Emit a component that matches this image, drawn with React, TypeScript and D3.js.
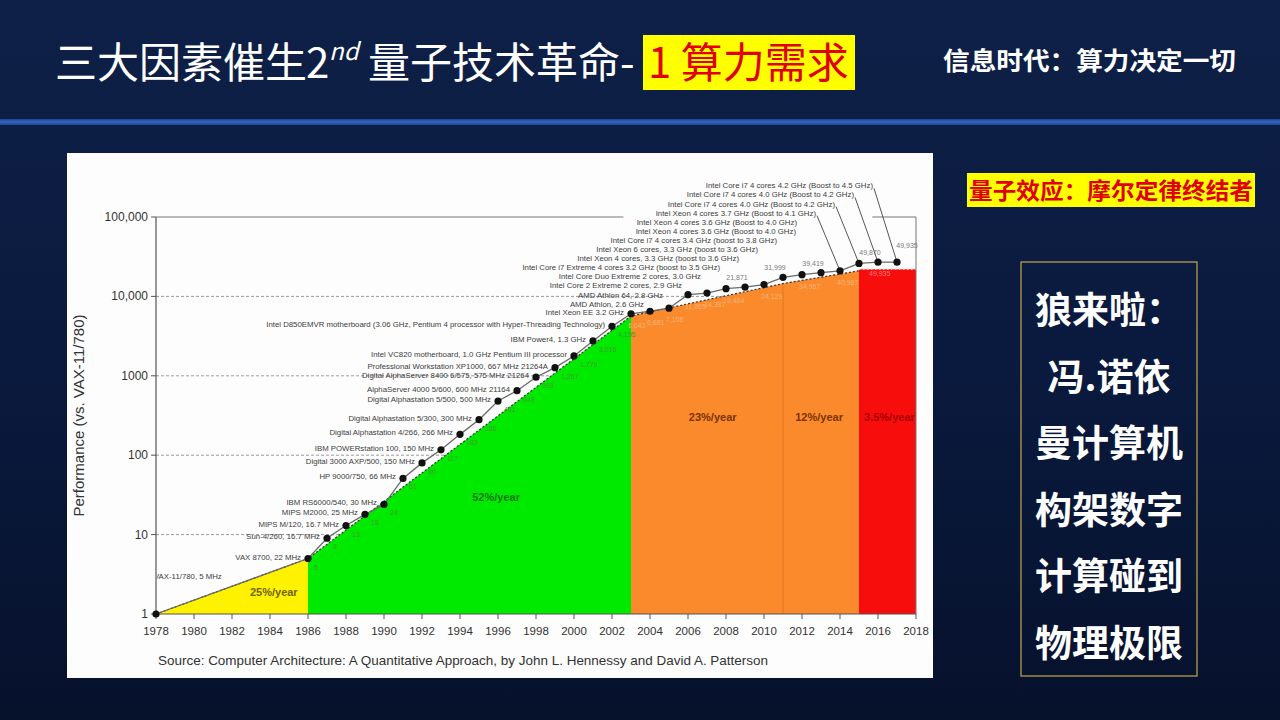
import React from 'react';
import * as d3 from 'd3';

// ---------- data ----------
const years = [1978, 1986, 1987, 1988, 1989, 1990, 1991, 1992, 1993, 1994, 1995, 1996, 1997, 1998, 1999, 2000, 2001, 2002, 2003, 2004, 2005, 2006, 2007, 2008, 2009, 2010, 2011, 2012, 2013, 2014, 2015, 2016, 2017];
const perf = [1, 5, 9, 13, 18, 24, 51, 80, 117, 183, 280, 481, 649, 960, 1267, 1779, 2750, 4195, 6043, 6500, 7100, 10500, 11000, 12500, 13100, 14100, 17400, 18800, 19900, 21000, 26000, 27000, 27000];
const machines = [
  'VAX-11/780, 5 MHz',
  'VAX 8700, 22 MHz',
  'Sun-4/260, 16.7 MHz',
  'MIPS M/120, 16.7 MHz',
  'MIPS M2000, 25 MHz',
  'IBM RS6000/540, 30 MHz',
  'HP 9000/750, 66 MHz',
  'Digital 3000 AXP/500, 150 MHz',
  'IBM POWERstation 100, 150 MHz',
  'Digital Alphastation 4/266, 266 MHz',
  'Digital Alphastation 5/300, 300 MHz',
  'Digital Alphastation 5/500, 500 MHz',
  'AlphaServer 4000 5/600, 600 MHz 21164',
  'Digital AlphaServer 8400 6/575, 575 MHz 21264',
  'Professional Workstation XP1000, 667 MHz 21264A',
  'Intel VC820 motherboard, 1.0 GHz Pentium III processor',
  'IBM Power4, 1.3 GHz',
  'Intel D850EMVR motherboard (3.06 GHz, Pentium 4 processor with Hyper-Threading Technology)',
  'Intel Xeon EE 3.2 GHz',
  'AMD Athlon, 2.6 GHz',
  'AMD Athlon 64, 2.8 GHz',
  'Intel Core 2 Extreme 2 cores, 2.9 GHz',
  'Intel Core Duo Extreme 2 cores, 3.0 GHz',
  'Intel Core i7 Extreme 4 cores 3.2 GHz (boost to 3.5 GHz)',
  'Intel Xeon 4 cores, 3.3 GHz (boost to 3.6 GHz)',
  'Intel Xeon 6 cores, 3.3 GHz (boost to 3.6 GHz)',
  'Intel Core i7 4 cores 3.4 GHz (boost to 3.8 GHz)',
  'Intel Xeon 4 cores 3.6 GHz (Boost to 4.0 GHz)',
  'Intel Xeon 4 cores 3.6 GHz (Boost to 4.0 GHz)',
  'Intel Xeon 4 cores 3.7 GHz (Boost to 4.1 GHz)',
  'Intel Core i7 4 cores 4.0 GHz (Boost to 4.2 GHz)',
  'Intel Core i7 4 cores 4.0 GHz (Boost to 4.2 GHz)',
  'Intel Core i7 4 cores 4.2 GHz (Boost to 4.5 GHz)',
];
const valueLabels = ['', '5', '9', '13', '18', '24', '51', '80', '117', '183', '280', '481', '649', '993', '1,267', '1,779', '3,016', '4,195', '6,043', '6,681', '7,108', '11,865', '14,387', '19,484', '21,871', '24,129', '31,999', '34,967', '39,419', '40,967', '49,935', '49,870', '49,935'];
// g = inside green, b = below line, a = above line, A = above-right, r = inside red
const valueSide = ['', 'g', 'g', 'g', 'g', 'g', 'g', 'g', 'g', 'g', 'g', 'g', 'g', 'g', 'g', 'g', 'g', 'g', 'b', 'b', 'b', 'b', 'b', 'b', 'a', 'b', 'a', 'b', 'a', 'b', 'r', 'a', 'A'];

const eraYellowYears = [1978, 1986];
const eraYellowTop = [1, 5];
const eraGreenYears = [1986, 2003];
const eraGreenTop = [5, 5660];
const eraOrangeYears = [2003, 2011, 2015];
const eraOrangeTop = [5660, 14500, 21000];
const eraRedYears = [2015, 2018];
const eraRedTop = [22000, 22000];

const rateLabels = ['25%/year', '52%/year', '23%/year', '12%/year', '3.5%/year'];
const rateYears = [1984.2, 1995.9, 2007.3, 2012.9, 2016.6];
const rateValues = [1.9, 30, 300, 300, 300];
const rateColors = ['#6e6400', '#0b7a0b', '#7a3300', '#7a3300', '#a80000'];

const yTicks = [1, 10, 100, 1000, 10000, 100000];
const yTickLabels = ['1', '10', '100', '1000', '10,000', '100,000'];
const xTicks = d3.range(1978, 2019, 2);

const boxLines = ['狼来啦：', '冯.诺依', '曼计算机', '构架数字', '计算碰到', '物理极限'];

const CJK = '"Noto Sans CJK SC", sans-serif';
const SANS = '"Liberation Sans", Arial, sans-serif';

export default function App() {
  const x = d3.scaleLinear().domain([1978, 2018]).range([156, 916]);
  const y = d3.scaleLog().domain([1, 100000]).range([614, 217]);

  const mkArea = (ys: number[], vs: number[]) =>
    d3.area<number>().x((_, i) => x(ys[i])).y0(y(1)).y1((_, i) => y(vs[i]))(vs) || '';
  const mkLine = (ys: number[], vs: number[]) =>
    d3.line<number>().x((_, i) => x(ys[i])).y((_, i) => y(vs[i]))(vs) || '';

  const topYears = [...eraYellowYears, ...eraGreenYears.slice(1), ...eraOrangeYears.slice(1)];
  const topVals = [...eraYellowTop, ...eraGreenTop.slice(1), ...eraOrangeTop.slice(1)];

  const dotLine = d3.line<number>().x((_, i) => x(years[i])).y((_, i) => y(perf[i]))(perf) || '';

  const idx2003 = years.indexOf(2003);
  const y2003 = y(perf[idx2003]);

  const labelPos = (i: number) => {
    const yr = years[i];
    const dx = x(yr);
    const dy = y(perf[i]);
    if (i === 0) return { lx: dx - 2, ly: y(3) + 3, anchor: 'start' };
    if (yr <= 2003) return { lx: dx - 7, ly: dy + 1, anchor: 'end' };
    const ly = y2003 - 9.1 * (yr - 2003) + 2;
    const lx = yr <= 2012 ? dx - 6 : dx - 24;
    return { lx, ly, anchor: 'end' };
  };

  const valuePos = (i: number) => {
    const dx = x(years[i]);
    const dy = y(perf[i]);
    const s = valueSide[i];
    if (s === 'g') return { vx: dx + 6, vy: dy + 11, anchor: 'start', fill: '#3f9f2c' };
    if (s === 'b') return { vx: dx - 3, vy: dy + 14, anchor: 'start', fill: '#f6b274' };
    if (s === 'r') return { vx: dx + 10, vy: dy + 13, anchor: 'start', fill: '#ff7d7d' };
    if (s === 'A') return { vx: dx + 10, vy: dy - 14, anchor: 'middle', fill: '#7a7a7a' };
    return { vx: dx - 8, vy: dy - 7, anchor: 'middle', fill: '#7a7a7a' };
  };

  return (
    <div style={{ position: 'fixed', left: 0, top: 0, width: 1280, height: 720 }}>
      <svg width={1280} height={720} style={{ display: 'block' }}>
        <defs>
          <linearGradient id="bg" x1="0" y1="0" x2="0" y2="1">
            <stop offset="0" stopColor="#0f2048" />
            <stop offset="0.5" stopColor="#0a1a3e" />
            <stop offset="1" stopColor="#06112c" />
          </linearGradient>
          <linearGradient id="bar" x1="0" y1="0" x2="0" y2="1">
            <stop offset="0" stopColor="#1d4590" />
            <stop offset="0.5" stopColor="#3566c0" />
            <stop offset="1" stopColor="#1d4590" />
          </linearGradient>
          <clipPath id="plotClip">
            <rect x={x(1978) + 1} y={150} width={x(2018) - x(1978) + 2} height={470} />
          </clipPath>
        </defs>
        <rect x={0} y={0} width={1280} height={720} fill="url(#bg)" />
        <rect x={0} y={119} width={1280} height={6} fill="url(#bar)" />

        {/* title */}
        <text x={55} y={78} fontFamily={CJK} fontSize={42} fill="#ffffff">三大因素催生</text>
        <text x={306} y={78} fontFamily={CJK} fontSize={42} fill="#ffffff">2</text>
        <text x={329} y={60} fontFamily={CJK} fontSize={24} fontStyle="italic" fill="#ffffff">nd</text>
        <text x={368} y={78} fontFamily={CJK} fontSize={42} fill="#ffffff">量子技术革命-</text>
        <rect x={643} y={35} width={212} height={55} fill="#ffff00" />
        <text x={648} y={78} fontFamily={CJK} fontSize={42} fill="#e00000">1 算力需求</text>
        <text x={943} y={70} fontFamily={CJK} fontSize={25} fontWeight="bold" fill="#ffffff" textLength={293} lengthAdjust="spacingAndGlyphs">信息时代：算力决定一切</text>

        {/* chart panel */}
        <rect x={67} y={153} width={866} height={525} fill="#fdfdfd" />

        {/* grid */}
        {yTicks.slice(1, -1).map((t) => (
          <line key={'g' + t} x1={x(1978)} x2={x(2018)} y1={y(t)} y2={y(t)} stroke="#9a9a9a" strokeWidth={1} strokeDasharray="3,2" />
        ))}

        {/* eras */}
        <path d={mkArea(eraYellowYears, eraYellowTop)} fill="#fff200" />
        <path d={mkArea(eraGreenYears, eraGreenTop)} fill="#00ea00" />
        <path d={mkArea(eraOrangeYears, eraOrangeTop)} fill="#fb8a2c" />
        <path d={mkArea(eraRedYears, eraRedTop)} fill="#f80d0d" />
        <path d={mkLine(topYears, topVals)} fill="none" stroke="#333" strokeWidth={1.2} strokeDasharray="2,2" />
        <path d={mkLine(eraRedYears, eraRedTop)} fill="none" stroke="#ffc0c0" strokeWidth={1.5} strokeDasharray="1.5,2.5" />
        <line x1={x(2011)} x2={x(2011)} y1={y(14500) + 2} y2={y(1)} stroke="#e07520" strokeWidth={1} />

        {/* rate labels */}
        <g clipPath="url(#plotClip)">
          {rateLabels.map((r, i) => (
            <text key={r} x={x(rateYears[i])} y={y(rateValues[i]) + 4} textAnchor="middle" fontFamily={SANS} fontSize={11} fontWeight="bold" fill={rateColors[i]}>{r}</text>
          ))}
        </g>

        {/* frame / axes */}
        <line x1={x(1978)} x2={x(1978)} y1={y(100000)} y2={y(1)} stroke="#555" strokeWidth={1.2} />
        <line x1={x(1978)} x2={x(2002.6)} y1={y(100000)} y2={y(100000)} stroke="#777" strokeWidth={1} />
        <line x1={x(2015.7)} x2={x(2018)} y1={y(100000)} y2={y(100000)} stroke="#777" strokeWidth={1} />
        <line x1={x(2018)} x2={x(2018)} y1={y(100000)} y2={y(1)} stroke="#777" strokeWidth={1} />
        <line x1={x(1978)} x2={x(2018)} y1={y(1)} y2={y(1)} stroke="#555" strokeWidth={1.2} />
        {yTicks.map((t, i) => (
          <g key={'yt' + t}>
            <line x1={x(1978) - 5} x2={x(1978)} y1={y(t)} y2={y(t)} stroke="#555" />
            <text x={x(1978) - 8} y={y(t) + 4} textAnchor="end" fontFamily={SANS} fontSize={12} fill="#333">{yTickLabels[i]}</text>
          </g>
        ))}
        {xTicks.map((t) => (
          <g key={'xt' + t}>
            <line x1={x(t)} x2={x(t)} y1={y(1)} y2={y(1) + 5} stroke="#555" />
            <text x={x(t)} y={y(1) + 21} textAnchor="middle" fontFamily={SANS} fontSize={11.5} fill="#333">{t}</text>
          </g>
        ))}
        <text transform={`translate(84,${(y(1) + y(100000)) / 2}) rotate(-90)`} textAnchor="middle" fontFamily={SANS} fontSize={15} fill="#333">Performance (vs. VAX-11/780)</text>

        {/* series */}
        <path d={dotLine} fill="none" stroke="#6a6a6a" strokeWidth={1.3} />
        {years.map((yr, i) => {
          if (yr < 2014) return null;
          const p = labelPos(i);
          return <line key={'ld' + yr} x1={p.lx + 1} y1={p.ly} x2={x(yr)} y2={y(perf[i])} stroke="#555" strokeWidth={1} />;
        })}
        {years.map((yr, i) => (
          <circle key={'d' + yr} cx={x(yr)} cy={y(perf[i])} r={3.6} fill="#111" />
        ))}

        {/* machine labels */}
        <g clipPath="url(#plotClip)">
          {machines.map((m, i) => {
            const p = labelPos(i);
            return (
              <text key={'m' + i} x={p.lx} y={p.ly} textAnchor={p.anchor as any} fontFamily={SANS} fontSize={7.8} fill="#3c3c3c">{m}</text>
            );
          })}
        </g>
        {/* value labels */}
        {valueLabels.map((v, i) => {
          if (!v) return null;
          const p = valuePos(i);
          return (
            <text key={'v' + i} x={p.vx} y={p.vy} textAnchor={p.anchor as any} fontFamily={SANS} fontSize={7} fill={p.fill}>{v}</text>
          );
        })}

        <text x={158} y={665} fontFamily={SANS} fontSize={13} fill="#333" textLength={610} lengthAdjust="spacingAndGlyphs">Source: Computer Architecture: A Quantitative Approach, by John L. Hennessy and David A. Patterson</text>

        {/* right side */}
        <rect x={967} y={173} width={288} height={34} fill="#ffff00" />
        <text x={969} y={199} fontFamily={CJK} fontSize={23} fontWeight="bold" fill="#e00000" textLength={284} lengthAdjust="spacingAndGlyphs">量子效应：摩尔定律终结者</text>
        <rect x={1021} y={262} width={176} height={414} fill="none" stroke="#c9a64c" strokeWidth={1.2} />
        {boxLines.map((t, i) => (
          <text key={t} x={1109} y={324 + i * 66.6} textAnchor="middle" fontFamily={CJK} fontSize={37} fontWeight="bold" fill="#ffffff">{t}</text>
        ))}
      </svg>
    </div>
  );
}
